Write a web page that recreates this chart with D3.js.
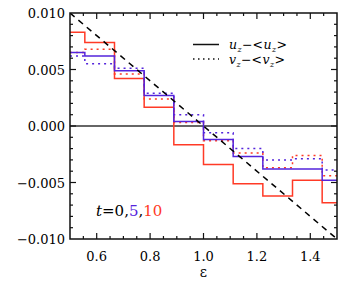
<!DOCTYPE html>
<html><head><meta charset="utf-8">
<script src="https://cdn.jsdelivr.net/npm/d3@7"></script>
<style>body{margin:0;background:#fff}svg{display:block}</style>
</head><body><svg id="c" width="346" height="288" font-family="'DejaVu Serif', serif"></svg>
<script>
const eps = [0.5, 0.6111, 0.7222, 0.8333, 0.9444, 1.0556, 1.1667, 1.2778, 1.3889, 1.5];
const u5  = [0.0065, 0.0062, 0.0049, 0.0027, 0.0004, -0.0012, -0.0027, -0.0038, -0.0038, -0.0048];
const v5  = [0.0062, 0.0055, 0.0051, 0.0029, 0.0010, -0.0006, -0.0020, -0.0030, -0.0029, -0.0039];
const u10 = [0.0083, 0.0074, 0.0042, 0.00165, -0.00165, -0.0034, -0.0051, -0.0062, -0.0048, -0.0068];
const v10 = [0.0065, 0.0068, 0.0046, 0.0024, 0.0003, -0.0013, -0.0024, -0.0037, -0.0026, -0.0044];
const eps0 = [0.5, 1.5];
const u0 = [0.0100, -0.0100];
const xTicks = [0.6, 0.8, 1.0, 1.2, 1.4];
const yTicks = [-0.010, -0.005, 0.000, 0.005, 0.010];

const RED = "#ff3a26", BLUE = "#5424dc";
const L = 70, R = 337, T = 13, B = 239;
const svg = d3.select("#c");
const x = d3.scaleLinear().domain([0.5, 1.5]).range([L, R]);
const y = d3.scaleLinear().domain([-0.010, 0.010]).range([B, T]);

svg.append("defs").append("clipPath").attr("id","cp").append("rect")
  .attr("x", L).attr("y", T).attr("width", R-L).attr("height", B-T);
const g = svg.append("g").attr("clip-path","url(#cp)");

g.append("line").attr("x1", L).attr("x2", R).attr("y1", y(0)).attr("y2", y(0))
  .attr("stroke", "#333").attr("stroke-width", 1.6);

const step = d3.line().x(d => x(d[0])).y(d => y(d[1])).curve(d3.curveStep);
function draw(vals, color, dash) {
  g.append("path").datum(eps.map((e,i)=>[e, vals[i]])).attr("d", step)
    .attr("fill","none").attr("stroke", color).attr("stroke-width", 1.5)
    .attr("stroke-dasharray", dash || null);
}
draw(u10, RED); draw(v10, RED, "2,4");
draw(u5, BLUE); draw(v5, BLUE, "2,4");

g.append("path").datum(eps0.map((e,i)=>[e,u0[i]]))
  .attr("d", d3.line().x(d=>x(d[0])).y(d=>y(d[1])))
  .attr("fill","none").attr("stroke","#000").attr("stroke-width",1.5).attr("stroke-dasharray","6,5");

svg.append("rect").attr("x", L).attr("y", T).attr("width", R-L).attr("height", B-T)
  .attr("fill","none").attr("stroke","#111").attr("stroke-width",1.5);

const ax = svg.append("g").attr("stroke","#111").attr("stroke-width",1.2);
d3.range(0.55, 1.5, 0.05).forEach(v => {
  const major = xTicks.some(t => Math.abs(t - v) < 1e-6);
  const len = major ? 6 : 3;
  ax.append("line").attr("x1", x(v)).attr("x2", x(v)).attr("y1", B).attr("y2", B-len);
  ax.append("line").attr("x1", x(v)).attr("x2", x(v)).attr("y1", T).attr("y2", T+len);
});
d3.range(-0.009, 0.0095, 0.001).forEach(v => {
  const major = yTicks.some(t => Math.abs(t - v) < 1e-7);
  const len = major ? 6 : 3;
  ax.append("line").attr("y1", y(v)).attr("y2", y(v)).attr("x1", L).attr("x2", L+len);
  ax.append("line").attr("y1", y(v)).attr("y2", y(v)).attr("x1", R).attr("x2", R-len);
});

const fs = 13;
yTicks.forEach(v => {
  svg.append("text").attr("x", 65).attr("y", y(v)+5).attr("text-anchor","end")
    .attr("font-size", fs).text(d3.format(".3f")(v).replace("-", "\u2212"));
});
xTicks.forEach(v => {
  svg.append("text").attr("x", x(v)).attr("y", 261).attr("text-anchor","middle")
    .attr("font-size", fs).text(d3.format(".1f")(v));
});
svg.append("text").attr("x", x(1.0)).attr("y", 277).attr("text-anchor","middle")
  .attr("font-size", 14).text("\u03b5");

function legendText(yy, letter) {
  const parts = [
    {t: letter, it: true, fs: 12.5, dy: 0},
    {t: "z", it: true, fs: 8, dy: 2.5},
    {t: "\u2212<", it: false, fs: 12.5, dy: 0},
    {t: letter, it: true, fs: 12.5, dy: 0},
    {t: "z", it: true, fs: 8, dy: 2.5},
    {t: ">", it: false, fs: 12.5, dy: 0}
  ];
  let cx = 229;
  parts.forEach(p => {
    const el = svg.append("text").attr("x", cx).attr("y", yy + p.dy)
      .attr("font-size", p.fs).attr("font-style", p.it ? "italic" : null).text(p.t);
    cx += el.node().getComputedTextLength() + 0.4;
  });
}
svg.append("line").attr("x1",193).attr("x2",219).attr("y1",44.5).attr("y2",44.5)
  .attr("stroke","#111").attr("stroke-width",1.5);
svg.append("line").attr("x1",193).attr("x2",219).attr("y1",59).attr("y2",59)
  .attr("stroke","#111").attr("stroke-width",1.5).attr("stroke-dasharray","1.5,3.5");
legendText(49, "u");
legendText(64, "v");

const tl = svg.append("text").attr("x", 96).attr("y", 216).attr("font-size", 15);
tl.append("tspan").attr("font-style","italic").text("t");
tl.append("tspan").text("=0,");
tl.append("tspan").attr("fill", BLUE).text("5");
tl.append("tspan").text(",");
tl.append("tspan").attr("fill", RED).text("10");
</script></body></html>
